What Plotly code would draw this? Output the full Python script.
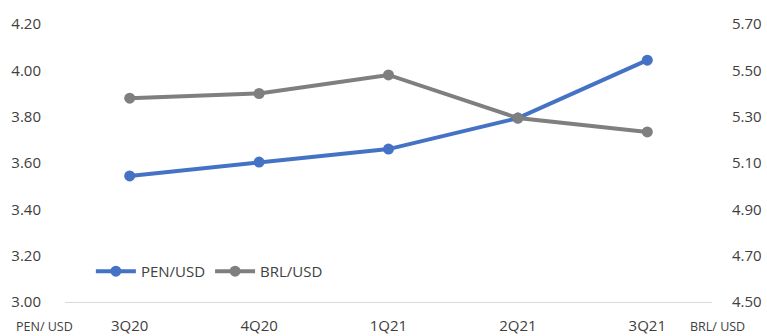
import plotly.graph_objects as go

quarters = ["3Q20", "4Q20", "1Q21", "2Q21", "3Q21"]
pen_usd = [3.544, 3.604, 3.66, 3.794, 4.044]
brl_usd = [5.38, 5.40, 5.48, 5.294, 5.234]
left_ticks = [3.00, 3.20, 3.40, 3.60, 3.80, 4.00, 4.20]
right_ticks = [4.50, 4.70, 4.90, 5.10, 5.30, 5.50, 5.70]

FONT = "Open Sans"
TXT = "#404040"

fig = go.Figure()
fig.add_trace(go.Scatter(
    x=quarters, y=pen_usd, name="PEN/USD", mode="lines+markers",
    line=dict(color="#4472C4", width=4), marker=dict(size=11, color="#4472C4"),
    yaxis="y"))
fig.add_trace(go.Scatter(
    x=quarters, y=brl_usd, name="BRL/USD", mode="lines+markers",
    line=dict(color="#7F7F7F", width=4), marker=dict(size=11, color="#7F7F7F"),
    yaxis="y2"))

fig.update_layout(
    width=767, height=336,
    margin=dict(l=65, r=55, t=24, b=34),
    paper_bgcolor="white", plot_bgcolor="white",
    font=dict(family=FONT, size=14, color=TXT),
    showlegend=True,
    legend=dict(orientation="h", x=0.04, y=0.11, xanchor="left", yanchor="middle",
                bgcolor="rgba(0,0,0,0)", font=dict(size=15, color=TXT),
                itemwidth=40, tracegroupgap=0),
    xaxis=dict(type="category", showgrid=False, showline=True, linecolor="#D9D9D9",
               linewidth=1, ticks="outside", ticklen=10, tickcolor="rgba(0,0,0,0)",
               tickfont=dict(size=15, color=TXT), automargin=False,
               range=[-0.5, 4.5], fixedrange=True),
    yaxis=dict(range=[3.0, 4.2], tickvals=left_ticks,
               ticktext=[f"{v:.2f}" for v in left_ticks],
               showgrid=False, zeroline=False, showline=False, automargin=False,
               ticks="outside", ticklen=20, tickcolor="rgba(0,0,0,0)",
               tickfont=dict(size=15, color=TXT)),
    yaxis2=dict(range=[4.5, 5.7], tickvals=right_ticks,
                ticktext=[f"{v:.2f}" for v in right_ticks],
                overlaying="y", side="right", automargin=False,
                showgrid=False, zeroline=False, showline=False,
                ticks="outside", ticklen=16, tickcolor="rgba(0,0,0,0)",
                tickfont=dict(size=15, color=TXT)),
)

fig.add_annotation(text="PEN/ USD", xref="paper", yref="paper", x=-0.031, y=0,
                   yshift=-24, xanchor="center", yanchor="middle", showarrow=False,
                   font=dict(size=12.5, color=TXT))
fig.add_annotation(text="BRL/ USD", xref="paper", yref="paper", x=1.009, y=0,
                   yshift=-24, xanchor="center", yanchor="middle", showarrow=False,
                   font=dict(size=12.5, color=TXT))

fig.write_html("out.html")
